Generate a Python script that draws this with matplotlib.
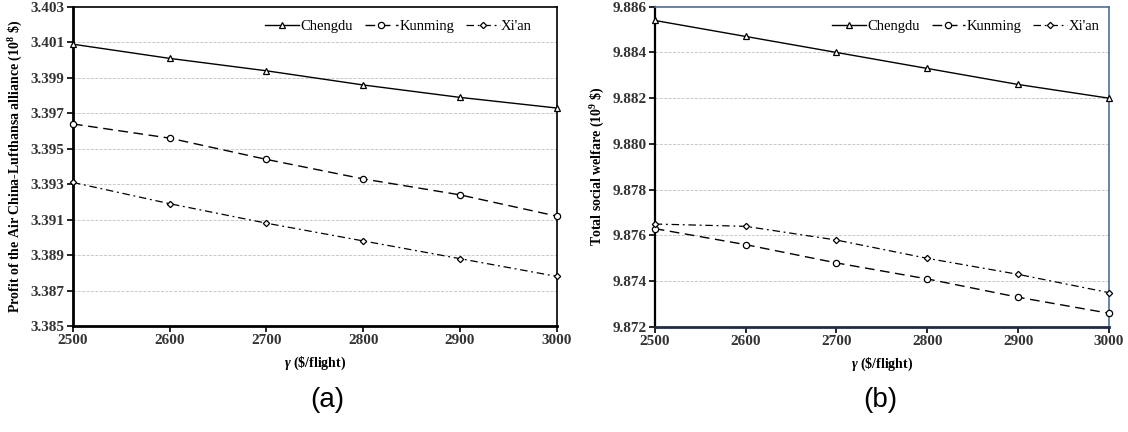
import matplotlib.pyplot as plt
import numpy as np

gamma = [2500, 2600, 2700, 2800, 2900, 3000]
cities = ["Chengdu", "Kunming", "Xi'an"]

# (a) profit of the Air China-Lufthansa alliance (10^8 $)
profit_chengdu = [3.4009, 3.4001, 3.3994, 3.3986, 3.3979, 3.3973]
profit_kunming = [3.3964, 3.3956, 3.3944, 3.3933, 3.3924, 3.3912]
profit_xian = [3.3931, 3.3919, 3.3908, 3.3898, 3.3888, 3.3878]

# (b) total social welfare (10^9 $)
welfare_chengdu = [9.8854, 9.8847, 9.8840, 9.8833, 9.8826, 9.8820]
welfare_kunming = [9.8763, 9.8756, 9.8748, 9.8741, 9.8733, 9.8726]
welfare_xian = [9.8765, 9.8764, 9.8758, 9.8750, 9.8743, 9.8735]

yticks_a = np.arange(3.385, 3.4031, 0.002)
yticks_b = np.arange(9.872, 9.8861, 0.002)

plt.rcParams['font.family'] = ['Liberation Serif', 'DejaVu Serif']
plt.rcParams['mathtext.fontset'] = 'custom'
plt.rcParams['mathtext.rm'] = 'Liberation Serif:bold'
plt.rcParams['mathtext.it'] = 'Liberation Serif:italic:bold'
plt.rcParams['mathtext.bf'] = 'Liberation Serif:bold'

styles = [
    dict(color='black', lw=1.0, ls='-', marker='^', ms=4.5, mfc='white', mec='black', mew=0.9),
    dict(color='black', lw=1.0, ls=(0, (7, 4)), marker='o', ms=4.5, mfc='white', mec='black', mew=0.9),
    dict(color='black', lw=0.9, ls=(0, (6, 3, 1.5, 3)), marker='D', ms=3.2, mfc='white', mec='black', mew=0.9),
]

fig = plt.figure(figsize=(11.28, 4.32), dpi=100)
ax1 = fig.add_axes([0.0647, 0.2454, 0.4288, 0.7384])
ax2 = fig.add_axes([0.5804, 0.2431, 0.4028, 0.7414])


def draw(ax, series, yticks, ylabel, spine_colors, leg_x):
    for name, vals, st in zip(cities, series, styles):
        ax.plot(gamma, vals, label=name, clip_on=False, zorder=3, **st)
    ax.set_xlim(2500, 3000)
    ax.set_ylim(yticks[0], yticks[-1])
    ax.set_xticks(gamma)
    ax.set_yticks(yticks)
    ax.set_yticklabels(["%.3f" % v for v in yticks])
    for v in yticks[1:-1]:
        ax.axhline(v, color='#c8c8c8', lw=0.7, ls=(0, (3, 1.5)), zorder=1)
    ax.tick_params(axis='both', direction='out', length=4, width=1.2, labelsize=11, pad=2)
    for lab in ax.get_xticklabels() + ax.get_yticklabels():
        lab.set_fontweight('bold')
        lab.set_color('#333333')
    for side, (c, w) in spine_colors.items():
        ax.spines[side].set_color(c)
        ax.spines[side].set_linewidth(w)
    ax.set_xlabel(r"$\gamma$ (\$/flight)", fontsize=10, fontweight='bold', labelpad=5)
    ax.set_ylabel(ylabel, fontsize=10, fontweight='bold', labelpad=4)
    ax.legend(loc='upper right', ncol=3, frameon=False, fontsize=10.5,
              handlelength=2.3, handletextpad=0.1, columnspacing=0.8,
              borderpad=0, borderaxespad=0,
              bbox_to_anchor=(leg_x, 0.96))


draw(ax1, [profit_chengdu, profit_kunming, profit_xian], yticks_a,
     r"Profit of the Air China-Lufthansa alliance (10$^8$ \$)",
     {'left': ('black', 2.0), 'bottom': ('black', 2.0), 'top': ('black', 1.2), 'right': ('black', 1.2)},
     0.949)
draw(ax2, [welfare_chengdu, welfare_kunming, welfare_xian], yticks_b,
     r"Total social welfare (10$^9$ \$)",
     {'left': ('black', 1.6), 'bottom': ('#1f2d45', 2.0), 'top': ('#4a6f9a', 1.2), 'right': ('#4a6f9a', 1.2)},
     0.978)

fig.text(0.2905, 0.073, "(a)", fontsize=20, family='Liberation Sans', ha='center', va='center')
fig.text(0.7805, 0.073, "(b)", fontsize=20, family='Liberation Sans', ha='center', va='center')

plt.savefig("out.png", dpi=100)
